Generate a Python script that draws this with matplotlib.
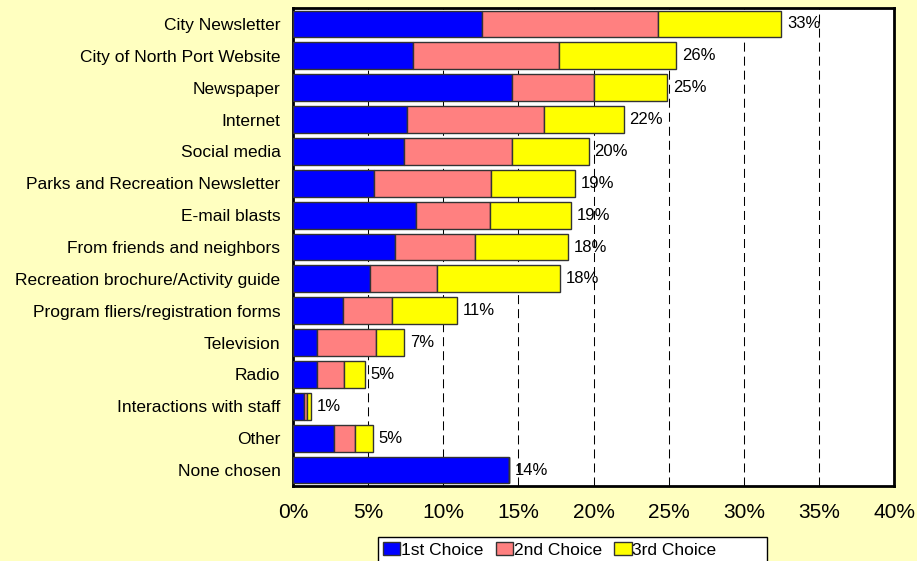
import matplotlib
matplotlib.use('Agg')
import matplotlib.pyplot as plt
from matplotlib.patches import Rectangle
import numpy as np

plt.rcParams['font.family'] = ['Liberation Sans', 'DejaVu Sans']
plt.rcParams['lines.scale_dashes'] = False

categories = ['City Newsletter', 'City of North Port Website', 'Newspaper',
              'Internet', 'Social media', 'Parks and Recreation Newsletter',
              'E-mail blasts', 'From friends and neighbors',
              'Recreation brochure/Activity guide',
              'Program fliers/registration forms', 'Television', 'Radio',
              'Interactions with staff', 'Other', 'None chosen']
first = [12.6, 8.0, 14.6, 7.6, 7.4, 5.4, 8.2, 6.8, 5.1, 3.3, 1.6, 1.6, 0.73, 2.7, 14.4]
second = [11.7, 9.7, 5.4, 9.1, 7.2, 7.8, 4.9, 5.3, 4.5, 3.3, 3.9, 1.8, 0.2, 1.4, 0.0]
third = [8.2, 7.8, 4.9, 5.3, 5.1, 5.6, 5.4, 6.2, 8.2, 4.3, 1.9, 1.4, 0.25, 1.2, 0.0]
total_labels = ['33%', '26%', '25%', '22%', '20%', '19%', '19%', '18%', '18%',
                '11%', '7%', '5%', '1%', '5%', '14%']
series_names = ['1st Choice', '2nd Choice', '3rd Choice']
ticks = [0, 5, 10, 15, 20, 25, 30, 35, 40]

bg = '#FFFFC0'
colors = ['#0000FF', '#FF8080', '#FFFF00']

fig = plt.figure(figsize=(9.17, 5.61), dpi=100, facecolor=bg)
ax = fig.add_axes([0.3195, 0.1337, 0.6555, 0.852])
ax.set_facecolor('white')

y = np.arange(len(categories))
first = np.array(first)
second = np.array(second)
third = np.array(third)

bars = []
left = np.zeros(len(categories))
for vals, c, name in zip([first, second, third], colors, series_names):
    b = ax.barh(y, vals, left=left, height=0.84, color=c,
                edgecolor='#333333', linewidth=1, label=name, zorder=3)
    bars.append(b)
    left = left + vals

for yi, tot, lab in zip(y, left, total_labels):
    ax.annotate(lab, (tot, yi), xytext=(4, 0), textcoords='offset points',
                va='center', ha='left', fontsize=12, zorder=4)

ax.set_ylim(len(categories) - 0.5, -0.5)
ax.set_xlim(0, 40)
ax.set_yticks(y)
ax.set_yticklabels(categories, fontsize=12.5)
ax.set_xticks(ticks)
ax.set_xticklabels(['%d%%' % t for t in ticks], fontsize=15)
ax.tick_params(axis='y', length=0, pad=9)
ax.tick_params(axis='x', length=0, pad=12)

for t in ticks[1:-1]:
    ax.axvline(t, color='black', linewidth=0.75, linestyle=(0, (6.5, 3.6)),
               zorder=1)

for s in ax.spines.values():
    s.set_linewidth(2)
    s.set_color('black')

# legend box (wider than its entries, like the original)
box = Rectangle((378 / 917, -0.05), (767 - 378) / 917, (561 - 537) / 561 + 0.05,
                transform=fig.transFigure, facecolor='white',
                edgecolor='black', linewidth=1, zorder=1)
fig.patches.append(box)

leg = fig.legend(handles=bars, labels=series_names, loc='center left',
                 bbox_to_anchor=(383 / 917, 1 - 550 / 561), ncol=3,
                 fontsize=12.5, frameon=False, handlelength=1.0,
                 handleheight=0.7, handletextpad=0.05, columnspacing=0.7,
                 borderpad=0, borderaxespad=0)
leg.set_zorder(5)

fig.savefig('out.png', dpi=100, facecolor=bg)
